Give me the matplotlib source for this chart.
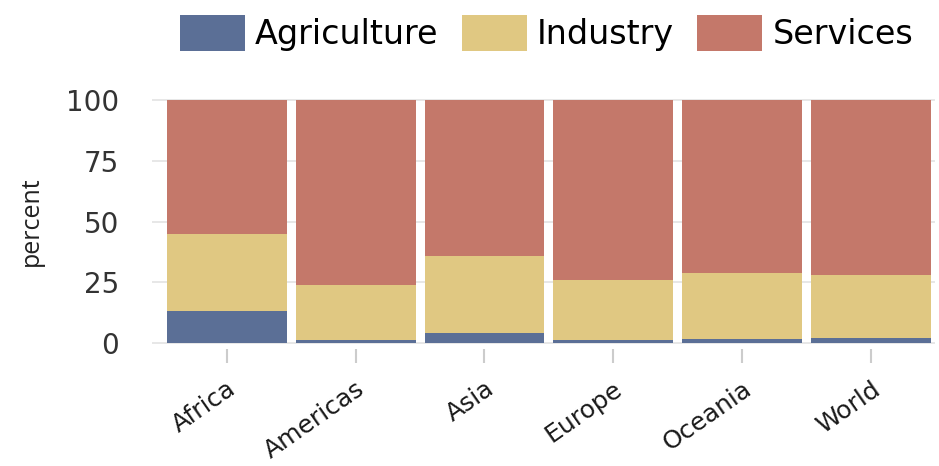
import numpy as np
import matplotlib.pyplot as plt

plt.rcParams['font.family'] = ['DejaVu Sans']

# data (percent of employment by sector)
regions = ['Africa', 'Americas', 'Asia', 'Europe', 'Oceania', 'World']
agriculture = [13.0, 1.3, 4.1, 1.2, 1.6, 2.2]
industry = [32.0, 22.5, 31.8, 24.9, 27.2, 26.0]
services = [55.0, 76.2, 64.1, 73.9, 71.2, 71.8]

colors = ['#5b6f96', '#e0c882', '#c4786a']
labels = ['Agriculture', 'Industry', 'Services']

fig = plt.figure(figsize=(9.39, 4.66), dpi=100)
ax = fig.add_axes([0.162, 0.251, 0.834, 0.547])

x = np.arange(len(regions))
bottom = np.zeros(len(regions))
for vals, c, lab in zip([agriculture, industry, services], colors, labels):
    ax.bar(x, vals, bottom=bottom, width=0.93, color=c, label=lab, zorder=2)
    bottom += np.array(vals)

ax.set_xlim(-0.58, 5.5)
ax.set_ylim(-2.5, 102.5)
ax.set_yticks([0, 25, 50, 75, 100])
ax.grid(axis='y', color='#e3e3e3', linewidth=1.2, zorder=0)
ax.set_xticks(x)
ax.set_xticklabels(regions, rotation=35, ha='right', rotation_mode='anchor',
                   fontsize=18, color='#1a1a1a')
ax.tick_params(axis='x', length=10, color='#cccccc', width=1.5, pad=10)
ax.tick_params(axis='y', length=0, labelsize=20, labelcolor='#333333', pad=24)
for s in ax.spines.values():
    s.set_visible(False)
ax.set_ylabel('percent', fontsize=18, color='#222222', labelpad=16,
              family='Open Sans')

fig.legend(loc='upper center', bbox_to_anchor=(0.582, 1.0), ncol=3, frameon=False,
           fontsize=24, handlelength=1.95, handleheight=1.3, handletextpad=0.3,
           columnspacing=0.7, borderaxespad=0.05)

plt.savefig('out.png', dpi=100)
